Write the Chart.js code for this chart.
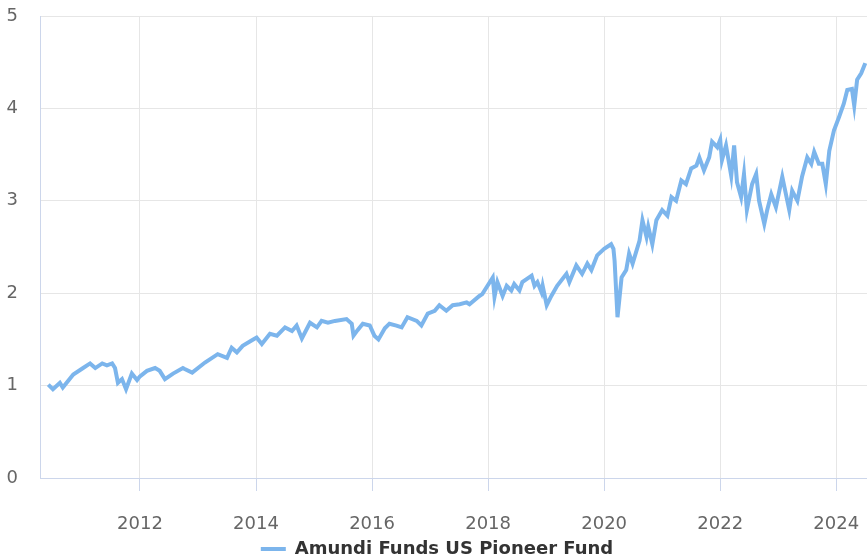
<!DOCTYPE html>
<html>
<head>
<meta charset="utf-8">
<script src="https://cdn.jsdelivr.net/npm/chart.js@4"></script>
<style>
  html, body { margin: 0; padding: 0; background: #ffffff; overflow: hidden; }
  #wrap { position: relative; width: 867px; height: 568px; }
</style>
</head>
<body>
<div id="wrap"><canvas id="c"></canvas></div>
<script>
// Decimal-year dates and fund values
const dates = [
  2010.42, 2010.50, 2010.62, 2010.67, 2010.85, 2011.02, 2011.14, 2011.23, 2011.35, 2011.43,
  2011.52, 2011.57, 2011.62, 2011.69, 2011.76, 2011.86, 2011.95, 2012.00, 2012.12, 2012.26,
  2012.34, 2012.43, 2012.57, 2012.74, 2012.77, 2012.90, 2013.12, 2013.34, 2013.50, 2013.58,
  2013.67, 2013.77, 2013.93, 2014.01, 2014.10, 2014.24, 2014.36, 2014.50, 2014.62, 2014.70,
  2014.79, 2014.93, 2015.05, 2015.13, 2015.24, 2015.36, 2015.56, 2015.65, 2015.68, 2015.75,
  2015.84, 2015.96, 2016.04, 2016.11, 2016.22, 2016.30, 2016.42, 2016.51, 2016.61, 2016.77,
  2016.85, 2016.96, 2017.08, 2017.16, 2017.28, 2017.39, 2017.51, 2017.63, 2017.68, 2017.85,
  2017.90, 2018.08, 2018.11, 2018.16, 2018.25, 2018.32, 2018.40, 2018.45, 2018.54, 2018.59,
  2018.75, 2018.80, 2018.85, 2018.92, 2018.94, 2019.01, 2019.09, 2019.19, 2019.35, 2019.40,
  2019.52, 2019.62, 2019.71, 2019.78, 2019.88, 2020.00, 2020.12, 2020.16, 2020.18, 2020.23,
  2020.26, 2020.30, 2020.38, 2020.43, 2020.49, 2020.61, 2020.66, 2020.73, 2020.76, 2020.83,
  2020.90, 2021.00, 2021.09, 2021.16, 2021.24, 2021.33, 2021.41, 2021.50, 2021.59, 2021.64,
  2021.72, 2021.81, 2021.86, 2021.95, 2022.00, 2022.03, 2022.10, 2022.19, 2022.24, 2022.29,
  2022.36, 2022.41, 2022.46, 2022.55, 2022.62, 2022.67, 2022.76, 2022.81, 2022.88, 2022.96,
  2023.07, 2023.19, 2023.24, 2023.33, 2023.41, 2023.50, 2023.57, 2023.62, 2023.70, 2023.76,
  2023.82, 2023.88, 2023.96, 2024.05, 2024.13, 2024.19, 2024.27, 2024.31, 2024.36, 2024.43,
  2024.50
];
const fundValues = [
  1.01, 0.96, 1.03, 0.98, 1.12, 1.19, 1.24, 1.19, 1.24, 1.22,
  1.24, 1.19, 1.03, 1.07, 0.96, 1.13, 1.06, 1.10, 1.16, 1.19,
  1.16, 1.07, 1.13, 1.19, 1.18, 1.14, 1.25, 1.34, 1.30, 1.41,
  1.36, 1.43, 1.49, 1.52, 1.45, 1.56, 1.54, 1.63, 1.59, 1.65,
  1.51, 1.68, 1.63, 1.70, 1.68, 1.70, 1.72, 1.67, 1.54, 1.60,
  1.67, 1.65, 1.54, 1.50, 1.62, 1.67, 1.65, 1.63, 1.74, 1.70,
  1.65, 1.78, 1.81, 1.87, 1.81, 1.87, 1.88, 1.90, 1.88, 1.97,
  1.99, 2.17, 1.96, 2.12, 1.97, 2.08, 2.03, 2.10, 2.03, 2.12,
  2.19, 2.08, 2.12, 2.01, 2.08, 1.87, 1.97, 2.08, 2.21, 2.12,
  2.30, 2.21, 2.32, 2.25, 2.41, 2.48, 2.53, 2.48, 2.35, 1.74,
  1.92, 2.17, 2.25, 2.43, 2.32, 2.57, 2.79, 2.61, 2.72, 2.53,
  2.79, 2.90, 2.84, 3.04, 3.00, 3.22, 3.18, 3.35, 3.38, 3.47,
  3.33, 3.47, 3.64, 3.58, 3.66, 3.44, 3.60, 3.27, 3.60, 3.20,
  3.04, 3.29, 2.90, 3.18, 3.29, 3.00, 2.75, 2.90, 3.07, 2.93,
  3.26, 2.90, 3.11, 3.00, 3.26, 3.47, 3.40, 3.53, 3.40, 3.40,
  3.18, 3.54, 3.76, 3.91, 4.05, 4.20, 4.21, 4.03, 4.31, 4.38,
  4.49
];
const yearTicks = [2012, 2014, 2016, 2018, 2020, 2022, 2024];
const valueTicks = [0, 1, 2, 3, 4, 5];
const seriesName = 'Amundi Funds US Pioneer Fund';

const points = dates.map((d, i) => ({ x: d, y: fundValues[i] }));
const FONT = 'DejaVu Sans';

function zeroPad(s) {
  s.paddingTop = 0; s.paddingBottom = 0; s.paddingLeft = 0; s.paddingRight = 0;
}

new Chart(document.getElementById('c'), {
  type: 'line',
  data: {
    datasets: [{
      label: seriesName,
      data: points,
      borderColor: '#7cb5ec',
      backgroundColor: '#7cb5ec',
      borderWidth: 4,
      pointRadius: 0,
      tension: 0,
      fill: false
    }]
  },
  options: {
    responsive: true,
    maintainAspectRatio: false,
    animation: false,
    layout: { padding: { top: 16, left: 7, right: 0, bottom: 0 } },
    plugins: {
      tooltip: { enabled: false },
      legend: {
        position: 'bottom',
        labels: {
          usePointStyle: true,
          pointStyle: 'line',
          pointStyleWidth: 25,
          padding: 5,
          color: '#333333',
          font: { family: FONT, size: 18, weight: 'bold' }
        }
      }
    },
    scales: {
      x: {
        type: 'linear',
        min: 2010.277,
        max: 2024.53,
        afterBuildTicks: (s) => { s.ticks = yearTicks.map(v => ({ value: v })); },
        afterFit: (s) => { zeroPad(s); s.height = 57; },
        grid: { color: '#e6e6e6', tickColor: '#ccd6eb', tickLength: 13, drawTicks: true },
        border: { color: '#ccd6eb', width: 1 },
        ticks: {
          color: '#666666',
          padding: 23,
          maxRotation: 0,
          autoSkip: false,
          font: { family: FONT, size: 18 },
          callback: (v) => String(v)
        }
      },
      y: {
        type: 'linear',
        min: 0,
        max: 5,
        afterBuildTicks: (s) => { s.ticks = valueTicks.map(v => ({ value: v })); },
        afterFit: (s) => { zeroPad(s); s.width = 33; },
        grid: { color: '#e6e6e6', drawTicks: false },
        border: { color: '#ccd6eb', width: 1 },
        ticks: {
          color: '#666666',
          padding: 22,
          font: { family: FONT, size: 18 },
          callback: (v) => String(v)
        }
      }
    }
  }
});
</script>
</body>
</html>
